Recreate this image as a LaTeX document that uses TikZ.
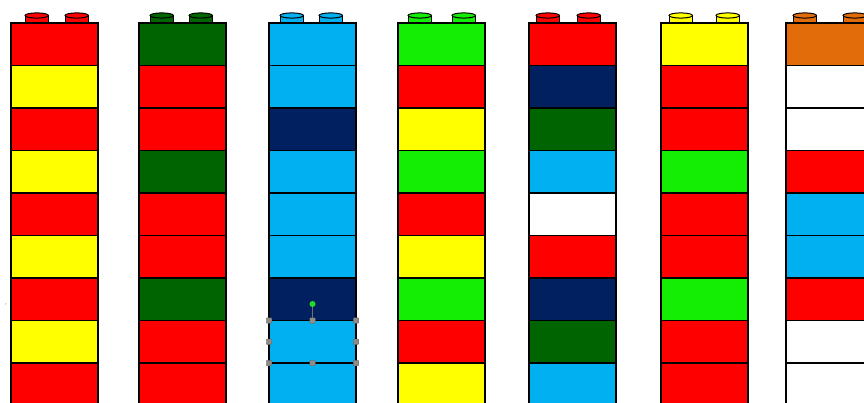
\documentclass[tikz,border=0pt]{standalone}
\usetikzlibrary{calc}
\definecolor{R}{HTML}{FF0000}
\definecolor{Y}{HTML}{FFFF00}
\definecolor{D}{HTML}{006400}
\definecolor{B}{HTML}{00B0F0}
\definecolor{N}{HTML}{002060}
\definecolor{G}{HTML}{13EE04}
\definecolor{O}{HTML}{E36C0A}
\definecolor{W}{HTML}{FFFFFF}
\definecolor{handle}{HTML}{8C8C8C}
\definecolor{rot}{HTML}{22DD22}
\begin{document}
\begin{tikzpicture}[x=1pt,y=-1pt,
  brick/.style={draw=black, line width=1.3pt, minimum width=87pt, minimum height=42.5pt,
    inner sep=0pt, outer sep=0pt, anchor=north west},
  studline/.style={draw=black, line width=1pt},
  hdl/.style={fill=handle, draw=handle!70!black, line width=0.3pt, minimum size=5.5pt, rounded corners=0.8pt, inner sep=0pt, outer sep=0pt}]
\useasboundingbox (0,0) rectangle (864,403);
\clip (0,0) rectangle (864,403);
\foreach \x/\sa/\sb/\tc/\cols [count=\k] in {
  11/14/54/R/{R,Y,R,Y,R,Y,R,Y,R},
  139/11/50/D/{D,R,R,D,R,R,D,R,R},
  269/11/50/B/{B,B,N,B,B,B,N,B,B},
  398/10/54/G/{G,R,Y,G,R,Y,G,R,Y},
  529/7/48/R/{R,N,D,B,W,R,N,D,B},
  661/8/55/Y/{Y,R,R,G,R,R,G,R,R},
  786/7/57/O/{O,W,W,R,B,B,R,W,W}}{
  \foreach \s in {\sa,\sb}{
    \path[fill=\tc, studline] (\x+\s,15.5) -- (\x+\s,23) -- (\x+\s+23.5,23) -- (\x+\s+23.5,15.5);
    \path[fill=\tc, studline] (\x+\s+11.75,15.5) ellipse [x radius=11.75pt, y radius=2.6pt];
  }
  \foreach \c [count=\i] in \cols {
    \node[brick, fill=\c] (c\k b\i) at (\x, {23+(\i-1)*42.5}) {};
  }
}
% selection handles on column 3, brick 8
\coordinate (rotc) at ($(c3b8.north)+(0,-16.5)$);
\draw[handle!80!black, line width=0.8pt] (c3b8.north) -- (rotc);
\node[circle, fill=rot, inner sep=0pt, minimum size=6pt] (rotdot) at (rotc) {};
\foreach \a in {north west,north,north east,west,east,south west,south,south east}{
  \node[hdl] at (c3b8.\a) {};
}
\node[text=B!60!gray, font=\fontsize{4}{4}\selectfont\itshape, inner sep=0pt] (mark) at (6,305) {r};
\end{tikzpicture}
\end{document}
